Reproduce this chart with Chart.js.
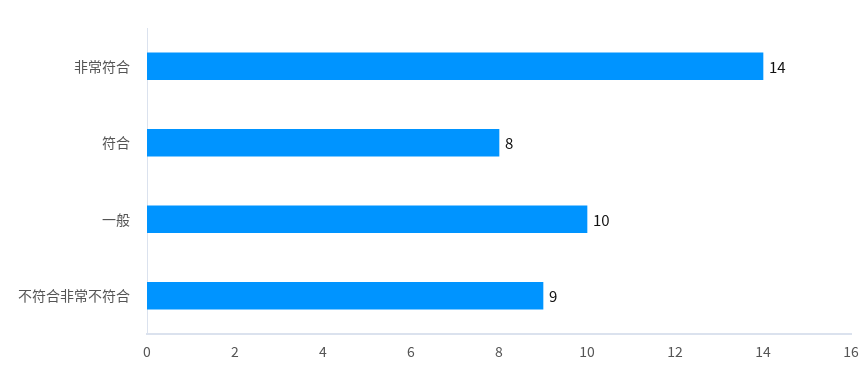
<!DOCTYPE html>
<html>
<head>
<meta charset="utf-8">
<script src="https://cdn.jsdelivr.net/npm/chart.js@4"></script>
<style>
  html, body { margin: 0; padding: 0; background: #fff; }
  #wrap { width: 865px; height: 372px; }
</style>
</head>
<body>
<div id="wrap"><canvas id="c" width="865" height="372"></canvas></div>
<script>
// ── Data ──
const categories = ['非常符合', '符合', '一般', '不符合非常不符合'];
const counts = [14, 8, 10, 9];
const xMax = 16;

const FONT = '"Noto Sans CJK SC", "Noto Sans", sans-serif';

// value labels at bar ends
const valueLabels = {
  id: 'valueLabels',
  afterDatasetsDraw(chart) {
    const ctx = chart.ctx;
    ctx.save();
    ctx.font = '15px ' + FONT;
    ctx.fillStyle = '#111';
    ctx.textBaseline = 'middle';
    ctx.textAlign = 'left';
    chart.getDatasetMeta(0).data.forEach((bar, i) => {
      ctx.fillText(String(counts[i]), bar.x + 6, bar.y + 1);
    });
    ctx.restore();
  }
};

new Chart(document.getElementById('c'), {
  type: 'bar',
  data: {
    labels: categories,
    datasets: [{ data: counts, backgroundColor: '#0094ff', barThickness: 27 }]
  },
  options: {
    indexAxis: 'y',
    responsive: false,
    animation: false,
    layout: { padding: { top: 28, right: 14, left: 0, bottom: 0 } },
    plugins: { legend: { display: false }, tooltip: { enabled: false } },
    scales: {
      x: {
        min: 0, max: xMax,
        ticks: { stepSize: 2, color: '#555', font: { family: FONT, size: 14 }, padding: 1 },
        grid: { display: false },
        border: { display: true, color: '#dbe2ee', width: 2 },
        afterFit: s => { s.height = 38; }
      },
      y: {
        ticks: { color: '#555', font: { family: FONT, size: 14 }, padding: 9 },
        grid: { display: false },
        border: { display: true, color: '#dbe2ee', width: 1 },
        afterFit: s => { s.width = 147; }
      }
    }
  },
  plugins: [valueLabels]
});
</script>
</body>
</html>
